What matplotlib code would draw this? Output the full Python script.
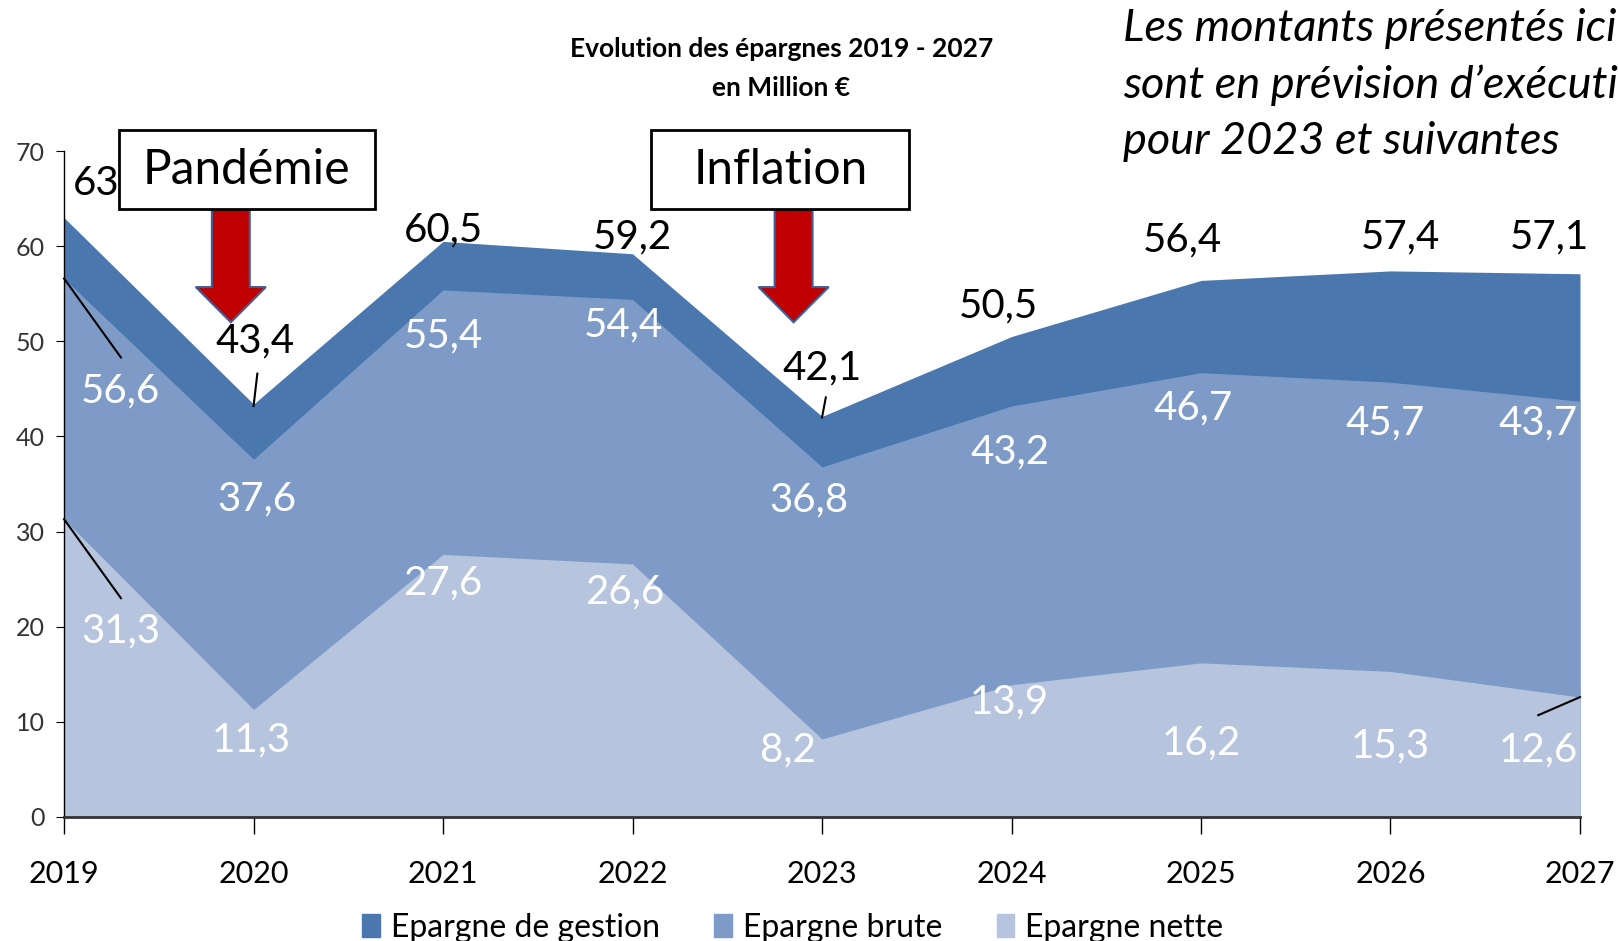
import matplotlib.pyplot as plt
from matplotlib.patches import Rectangle, FancyArrow, Patch

plt.rcParams['font.family'] = ['Lato', 'DejaVu Sans']

# données (millions €)
annees = [2019, 2020, 2021, 2022, 2023, 2024, 2025, 2026, 2027]
epargne_gestion = [63, 43.4, 60.5, 59.2, 42.1, 50.5, 56.4, 57.4, 57.1]
epargne_brute = [56.6, 37.6, 55.4, 54.4, 36.8, 43.2, 46.7, 45.7, 43.7]
epargne_nette = [31.3, 11.3, 27.6, 26.6, 8.2, 13.9, 16.2, 15.3, 12.6]

# placement des étiquettes (x en années, y en valeur)
pos_gestion = [(2019.17, 66.6), (2020.01, 50.0), (2021.0, 61.7), (2022.0, 61.0), (2023.0, 47.2),
               (2023.93, 53.7), (2024.9, 60.6), (2026.05, 61.0), (2026.84, 61.0)]
pos_brute = [(2019.3, 44.8), (2020.02, 33.4), (2021.0, 50.6), (2021.95, 51.7), (2022.93, 33.3),
             (2023.99, 38.4), (2024.96, 43.0), (2025.97, 41.4), (2026.78, 41.4)]
pos_nette = [(2019.3, 19.5), (2019.99, 8.1), (2021.0, 24.6), (2021.96, 23.7), (2022.82, 7.0),
             (2023.99, 12.1), (2025.0, 7.8), (2026.0, 7.5), (2026.78, 7.0)]

c_gestion = '#4A77AE'
c_brute = '#7E9BC7'
c_nette = '#B6C4DE'


def fmt(v):
    return f'{v:g}'.replace('.', ',')


fig = plt.figure(figsize=(16.18, 9.41), dpi=100)
ax = fig.add_axes([0.0396, 0.1318, 0.9369, 0.7077])

ax.fill_between(annees, 0, epargne_gestion, color=c_gestion, lw=0)
ax.fill_between(annees, 0, epargne_brute, color=c_brute, lw=0)
ax.fill_between(annees, 0, epargne_nette, color=c_nette, lw=0)

ax.set_xlim(2019, 2027)
ax.set_ylim(0, 70)
ax.set_xticks(annees)
ax.set_xticklabels([str(a) for a in annees], fontsize=22)
ax.set_yticks(range(0, 71, 10))
ax.tick_params(axis='y', labelsize=18, length=6, direction='out', pad=8, labelcolor='#333333')
ax.tick_params(axis='x', length=12, direction='out', pad=19, width=1)
for s in ['top', 'right']:
    ax.spines[s].set_visible(False)
ax.spines['bottom'].set_linewidth(2)
ax.spines['bottom'].set_color('#333333')
ax.spines['left'].set_linewidth(1)

# étiquettes
for v, (x, y) in zip(epargne_gestion, pos_gestion):
    ax.text(x, y, fmt(v), fontsize=29, color='black', ha='center', va='center', clip_on=False)
for v, (x, y) in zip(epargne_brute, pos_brute):
    ax.text(x, y, fmt(v), fontsize=29, color='white', ha='center', va='center')
for v, (x, y) in zip(epargne_nette, pos_nette):
    ax.text(x, y, fmt(v), fontsize=29, color='white', ha='center', va='center')

# traits de rappel
for (x0, y0, x1, y1) in [(2019, 56.6, 2019.3, 48.3), (2019, 31.3, 2019.3, 23.0),
                         (2020, 43.2, 2020.02, 46.6), (2023, 42.0, 2023.02, 44.1),
                         (2027, 12.6, 2026.78, 10.7)]:
    ax.plot([x0, x1], [y0, y1], color='black', lw=1.5, clip_on=False)

# encadrés + flèches
for (x0, x1, txt, xa) in [(2019.29, 2020.64, 'Pandémie', 2019.88),
                          (2022.10, 2023.46, 'Inflation', 2022.85)]:
    ax.add_patch(FancyArrow(xa, 63.9, 0, -11.9, width=0.20, head_width=0.37, head_length=3.7,
                            length_includes_head=True, facecolor='#C00000', edgecolor='#3F5F98',
                            lw=1.5, zorder=5))
    ax.add_patch(Rectangle((x0, 63.9), x1 - x0, 8.3, facecolor='white', edgecolor='black',
                           lw=2, clip_on=False, zorder=6))
    ax.text((x0 + x1) / 2, 68.05, txt, fontsize=34.5, ha='center', va='center', zorder=7,
            clip_on=False)

fig.text(0.483, 0.948, 'Evolution des épargnes 2019 - 2027', fontsize=19, fontweight='bold',
         ha='center', va='center')
fig.text(0.483, 0.907, 'en Million €', fontsize=19, fontweight='bold', ha='center', va='center')

fig.text(0.694, 0.970, 'Les montants présentés ici', fontsize=32.5, style='italic', va='center')
fig.text(0.694, 0.910, 'sont en prévision d’exécution', fontsize=32.5, style='italic', va='center')
fig.text(0.694, 0.850, 'pour 2023 et suivantes', fontsize=32.5, style='italic', va='center')

handles = [Patch(color=c_gestion, label='Epargne de gestion'),
           Patch(color=c_brute, label='Epargne brute'),
           Patch(color=c_nette, label='Epargne nette')]
fig.legend(handles=handles, loc='center', bbox_to_anchor=(0.49, 0.014), ncol=3, frameon=False,
           fontsize=23, handlelength=0.55, handleheight=0.7, handletextpad=0.35,
           columnspacing=1.7)

fig.savefig('out.png', dpi=100)
